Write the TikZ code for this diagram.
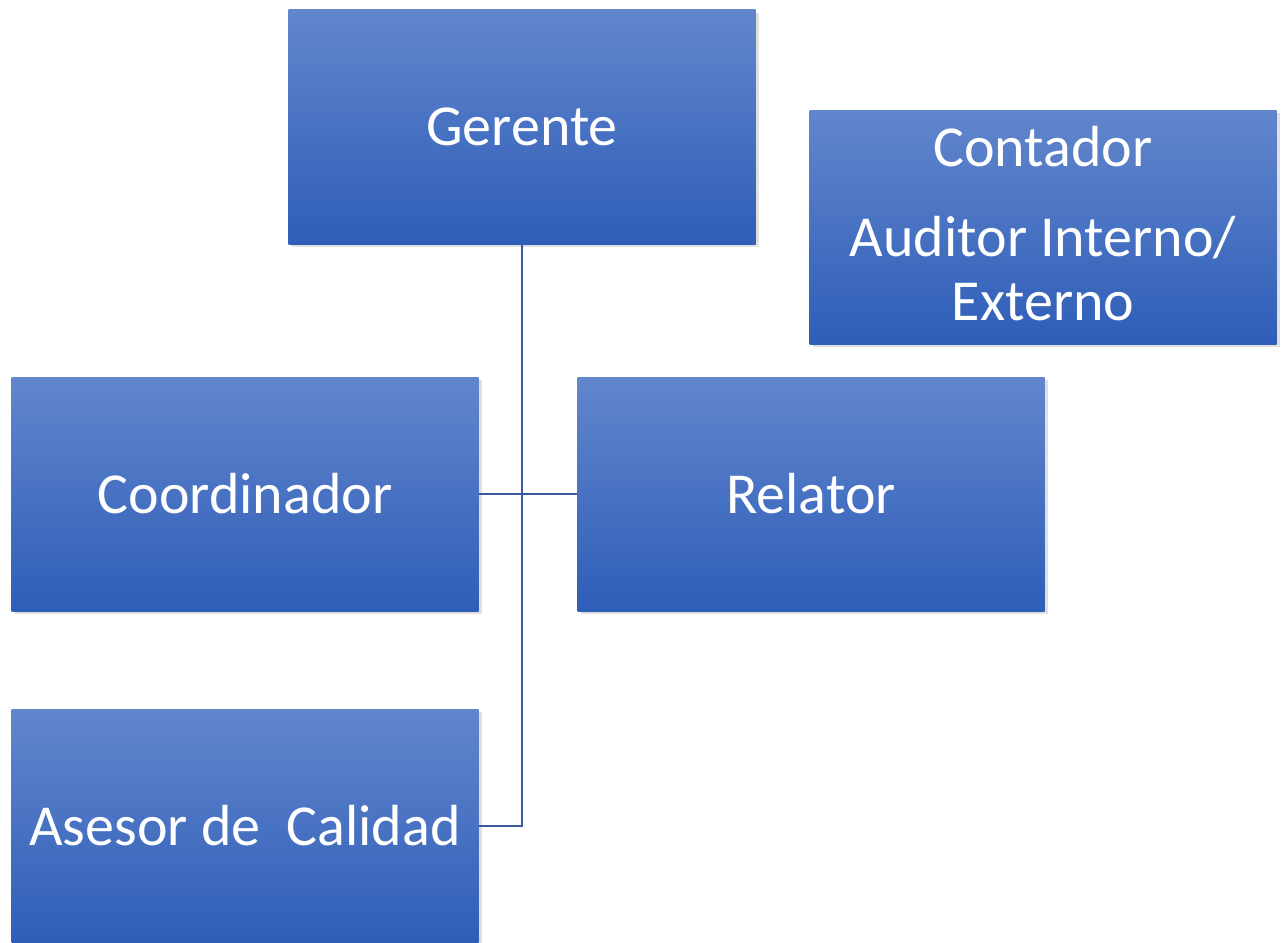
\documentclass[tikz,border=0pt]{standalone}
\usepackage{fontspec}
\setmainfont{Carlito}
\usetikzlibrary{shadows}
\definecolor{boxtop}{RGB}{98,134,204}
\definecolor{boxmid}{RGB}{66,113,200}
\definecolor{boxbot}{RGB}{46,94,184}
\definecolor{linea}{RGB}{58,90,158}
\begin{document}
\begin{tikzpicture}[x=1pt,y=-1pt,
		caja/.style={rectangle,minimum width=467pt,minimum height=234pt,inner sep=0pt,
			top color=boxtop,middle color=boxmid,bottom color=boxbot,text=white,align=center,
			font=\fontsize{58}{64}\selectfont,
			drop shadow={shadow xshift=3pt,shadow yshift=-3pt,opacity=0.25}},
		conec/.style={draw=linea,line width=2.5pt}]
				\useasboundingbox (0,0) rectangle (1284,942);
				\node[caja] (ger) at (522,127) {Gerente};
				\node[caja] (cont) at (1043,227) {};
				\node[align=center,text=white,font=\fontsize{58}{64}\selectfont] (conttxt) at (cont) [yshift=3pt] {Contador\\[26pt]Auditor Interno/\\Externo};
				\node[caja] (coord) at (245,494) {Coordinador};
				\node[caja] (rel) at (811,494) {Relator};
				\node[caja] (ases) at (245,826) {Asesor de\ \ Calidad};
				\coordinate (codo) at (ger.south |- ases.east);
				\draw[conec] (ger.south) -- (codo) -- (ases.east);
				\draw[conec] (coord.east) -- (rel.west);
			\end{tikzpicture}
\end{document}
